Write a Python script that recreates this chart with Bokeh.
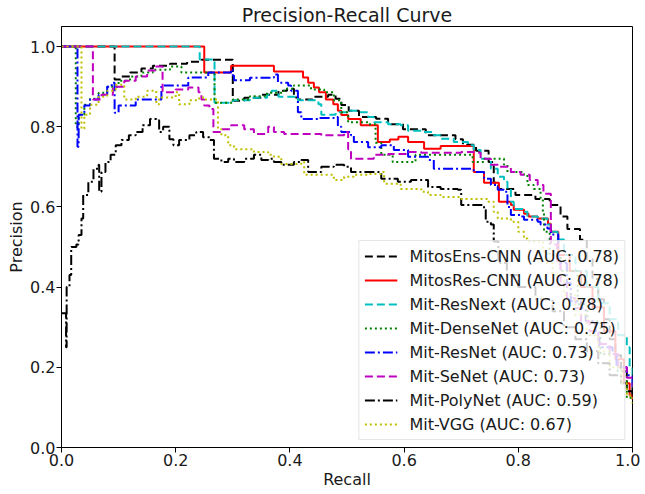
from bokeh.plotting import figure
from bokeh.models import FixedTicker, PrintfTickFormatter, Range1d, Legend
from bokeh.embed import file_html
from bokeh.resources import INLINE

# ---- data ----
series_names = ["MitosEns-CNN (AUC: 0.78)", "MitosRes-CNN (AUC: 0.78)", "Mit-ResNext (AUC: 0.78)",
                "Mit-DenseNet (AUC: 0.75)", "Mit-ResNet (AUC: 0.73)", "Mit-SeNet (AUC: 0.73)",
                "Mit-PolyNet (AUC: 0.59)", "Mit-VGG (AUC: 0.67)"]

ens_recall = [0.0, 0.093, 0.105, 0.12, 0.14, 0.16, 0.19, 0.22, 0.245, 0.30, 0.32, 0.35, 0.38, 0.395, 0.407, 0.414, 0.44, 0.467, 0.48, 0.49, 0.503, 0.521, 0.551, 0.572, 0.598, 0.638, 0.69, 0.703, 0.726, 0.748, 0.757, 0.765, 0.795, 0.83, 0.855, 0.874, 0.886, 0.908, 0.92, 0.93, 0.94, 0.95, 0.96, 0.97, 0.98, 0.99, 1.0]
ens_precision = [1.0, 0.918, 0.925, 0.935, 0.945, 0.952, 0.957, 0.962, 0.967, 0.865, 0.872, 0.88, 0.89, 0.895, 0.873, 0.868, 0.875, 0.88, 0.87, 0.854, 0.84, 0.824, 0.82, 0.806, 0.794, 0.779, 0.769, 0.755, 0.74, 0.712, 0.66, 0.645, 0.63, 0.62, 0.605, 0.576, 0.545, 0.518, 0.47, 0.42, 0.37, 0.32, 0.27, 0.23, 0.19, 0.15, 0.13]

res_recall = [0.0, 0.25, 0.297, 0.372, 0.423, 0.432, 0.442, 0.451, 0.463, 0.476, 0.484, 0.49, 0.502, 0.524, 0.554, 0.575, 0.59, 0.607, 0.635, 0.664, 0.722, 0.74, 0.766, 0.787, 0.792, 0.81, 0.818, 0.834, 0.852, 0.857, 0.87, 0.89, 0.91, 0.93, 0.95, 0.97, 0.985, 0.995, 1.0]
res_precision = [1.0, 0.935, 0.952, 0.938, 0.923, 0.91, 0.898, 0.886, 0.868, 0.856, 0.84, 0.829, 0.819, 0.804, 0.762, 0.768, 0.775, 0.762, 0.745, 0.752, 0.687, 0.66, 0.613, 0.605, 0.593, 0.583, 0.576, 0.571, 0.558, 0.538, 0.48, 0.44, 0.40, 0.35, 0.29, 0.22, 0.16, 0.13, 0.12]

nxt_recall = [0.0, 0.242, 0.268, 0.30, 0.33, 0.36, 0.368, 0.38, 0.414, 0.45, 0.455, 0.48, 0.502, 0.524, 0.537, 0.547, 0.572, 0.594, 0.607, 0.63, 0.652, 0.664, 0.687, 0.712, 0.722, 0.734, 0.752, 0.764, 0.775, 0.781, 0.787, 0.792, 0.81, 0.816, 0.834, 0.851, 0.857, 0.869, 0.88, 0.90, 0.92, 0.94, 0.96, 0.975, 0.99, 0.995, 1.0]
nxt_precision = [1.0, 0.968, 0.86, 0.866, 0.872, 0.88, 0.89, 0.875, 0.866, 0.856, 0.83, 0.836, 0.84, 0.836, 0.824, 0.811, 0.806, 0.804, 0.79, 0.787, 0.779, 0.77, 0.762, 0.754, 0.742, 0.72, 0.695, 0.675, 0.663, 0.645, 0.613, 0.595, 0.588, 0.576, 0.571, 0.556, 0.538, 0.519, 0.48, 0.44, 0.40, 0.36, 0.32, 0.28, 0.25, 0.20, 0.14]

den_recall = [0.0, 0.025, 0.03, 0.04, 0.05, 0.065, 0.08, 0.10, 0.12, 0.14, 0.16, 0.19, 0.21, 0.268, 0.30, 0.33, 0.36, 0.39, 0.407, 0.437, 0.46, 0.477, 0.49, 0.502, 0.537, 0.55, 0.56, 0.58, 0.62, 0.678, 0.72, 0.74, 0.775, 0.781, 0.81, 0.816, 0.827, 0.839, 0.843, 0.845, 0.855, 0.874, 0.904, 0.921, 0.944, 0.974, 0.99, 1.0]
den_precision = [1.0, 0.80, 0.83, 0.855, 0.87, 0.885, 0.90, 0.915, 0.925, 0.935, 0.942, 0.95, 0.935, 0.86, 0.868, 0.876, 0.885, 0.895, 0.903, 0.893, 0.886, 0.866, 0.836, 0.811, 0.806, 0.76, 0.73, 0.712, 0.73, 0.73, 0.712, 0.72, 0.705, 0.687, 0.68, 0.655, 0.645, 0.62, 0.588, 0.538, 0.48, 0.44, 0.357, 0.315, 0.233, 0.19, 0.124, 0.12]

rn_recall = [0.0, 0.028, 0.03, 0.04, 0.05, 0.065, 0.08, 0.088, 0.093, 0.10, 0.13, 0.175, 0.222, 0.257, 0.297, 0.30, 0.302, 0.33, 0.372, 0.379, 0.397, 0.402, 0.414, 0.42, 0.45, 0.477, 0.484, 0.49, 0.507, 0.512, 0.537, 0.56, 0.582, 0.607, 0.642, 0.652, 0.69, 0.722, 0.74, 0.752, 0.764, 0.775, 0.781, 0.787, 0.804, 0.81, 0.834, 0.839, 0.851, 0.857, 0.87, 0.885, 0.892, 0.91, 0.918, 0.935, 0.942, 0.965, 0.972, 0.99, 1.0]
rn_precision = [1.0, 0.75, 0.83, 0.853, 0.868, 0.88, 0.90, 0.91, 0.835, 0.853, 0.868, 0.903, 0.923, 0.935, 0.943, 0.928, 0.916, 0.922, 0.93, 0.91, 0.903, 0.89, 0.836, 0.819, 0.822, 0.824, 0.80, 0.787, 0.779, 0.762, 0.749, 0.754, 0.742, 0.725, 0.717, 0.695, 0.695, 0.687, 0.67, 0.655, 0.643, 0.638, 0.60, 0.58, 0.576, 0.568, 0.563, 0.556, 0.546, 0.531, 0.46, 0.41, 0.365, 0.347, 0.315, 0.29, 0.25, 0.233, 0.20, 0.18, 0.15]

se_recall = [0.0, 0.055, 0.07, 0.09, 0.11, 0.13, 0.15, 0.165, 0.177, 0.20, 0.222, 0.24, 0.245, 0.25, 0.259, 0.266, 0.28, 0.297, 0.315, 0.32, 0.332, 0.337, 0.362, 0.372, 0.39, 0.42, 0.455, 0.495, 0.502, 0.507, 0.524, 0.547, 0.572, 0.607, 0.63, 0.664, 0.70, 0.722, 0.734, 0.752, 0.764, 0.787, 0.804, 0.82, 0.834, 0.844, 0.857, 0.868, 0.874, 0.885, 0.90, 0.91, 0.925, 0.94, 0.96, 0.975, 0.99, 1.0]
se_precision = [1.0, 0.868, 0.88, 0.90, 0.915, 0.925, 0.94, 0.95, 0.886, 0.893, 0.898, 0.886, 0.868, 0.853, 0.844, 0.787, 0.794, 0.804, 0.804, 0.794, 0.794, 0.782, 0.80, 0.787, 0.782, 0.782, 0.779, 0.787, 0.744, 0.72, 0.72, 0.73, 0.732, 0.737, 0.735, 0.735, 0.737, 0.735, 0.72, 0.705, 0.70, 0.687, 0.68, 0.667, 0.655, 0.633, 0.506, 0.457, 0.407, 0.372, 0.347, 0.315, 0.29, 0.258, 0.233, 0.20, 0.174, 0.15]

poly_recall = [0.0, 0.008, 0.009, 0.014, 0.017, 0.026, 0.03, 0.035, 0.038, 0.047, 0.056, 0.065, 0.066, 0.07, 0.077, 0.086, 0.095, 0.105, 0.118, 0.13, 0.142, 0.155, 0.166, 0.171, 0.178, 0.189, 0.196, 0.206, 0.224, 0.236, 0.248, 0.259, 0.267, 0.28, 0.292, 0.302, 0.32, 0.337, 0.35, 0.362, 0.372, 0.385, 0.407, 0.42, 0.432, 0.455, 0.477, 0.495, 0.507, 0.524, 0.56, 0.589, 0.612, 0.642, 0.664, 0.694, 0.70, 0.74, 0.743, 0.752, 0.757, 0.765, 0.78, 0.80, 0.83, 0.86, 0.88, 0.90, 0.92, 0.94, 0.96, 0.98, 0.99, 1.0]
poly_precision = [0.335, 0.25, 0.40, 0.43, 0.50, 0.506, 0.53, 0.571, 0.63, 0.663, 0.695, 0.705, 0.638, 0.687, 0.712, 0.73, 0.754, 0.767, 0.779, 0.787, 0.804, 0.819, 0.816, 0.787, 0.80, 0.769, 0.754, 0.767, 0.779, 0.787, 0.774, 0.767, 0.72, 0.712, 0.72, 0.712, 0.72, 0.73, 0.717, 0.72, 0.712, 0.705, 0.712, 0.717, 0.687, 0.70, 0.705, 0.70, 0.687, 0.687, 0.67, 0.663, 0.667, 0.65, 0.645, 0.643, 0.605, 0.593, 0.563, 0.556, 0.514, 0.46, 0.43, 0.40, 0.37, 0.34, 0.30, 0.27, 0.24, 0.21, 0.18, 0.16, 0.14, 0.13]

vgg_recall = [0.0, 0.035, 0.04, 0.05, 0.065, 0.08, 0.095, 0.11, 0.13, 0.15, 0.166, 0.171, 0.20, 0.206, 0.224, 0.241, 0.25, 0.274, 0.28, 0.292, 0.302, 0.337, 0.362, 0.372, 0.385, 0.42, 0.425, 0.455, 0.477, 0.495, 0.512, 0.537, 0.56, 0.565, 0.594, 0.63, 0.642, 0.664, 0.70, 0.747, 0.757, 0.764, 0.787, 0.80, 0.81, 0.816, 0.843, 0.85, 0.86, 0.88, 0.90, 0.92, 0.94, 0.96, 0.98, 0.99, 1.0]
vgg_precision = [1.0, 0.795, 0.83, 0.855, 0.875, 0.89, 0.905, 0.868, 0.875, 0.89, 0.856, 0.873, 0.886, 0.856, 0.866, 0.873, 0.868, 0.794, 0.779, 0.754, 0.744, 0.737, 0.73, 0.725, 0.707, 0.712, 0.68, 0.68, 0.667, 0.675, 0.68, 0.682, 0.687, 0.658, 0.645, 0.638, 0.63, 0.625, 0.62, 0.613, 0.588, 0.571, 0.563, 0.538, 0.521, 0.514, 0.489, 0.46, 0.43, 0.38, 0.33, 0.28, 0.24, 0.20, 0.16, 0.13, 0.11]

x_ticks = [0.0, 0.2, 0.4, 0.6, 0.8, 1.0]
y_ticks = [0.0, 0.2, 0.4, 0.6, 0.8, 1.0]

# ---- styles ----
FONT = "DejaVu Sans"
TXT = "#1a1a1a"
styles = [
    ("black", "8 4"),
    ("#ff0000", "solid"),
    ("#00bfbf", "8 4"),
    ("#008000", "2 3"),
    ("#0000ff", "10 3 2 3"),
    ("#bf00bf", "8 4"),
    ("black", "10 3 2 3"),
    ("#bfbf00", "2 3"),
]
curves = [(ens_recall, ens_precision), (res_recall, res_precision), (nxt_recall, nxt_precision),
          (den_recall, den_precision), (rn_recall, rn_precision), (se_recall, se_precision),
          (poly_recall, poly_precision), (vgg_recall, vgg_precision)]

p = figure(width=640, height=492, output_backend="svg", toolbar_location=None,
           x_range=Range1d(0, 1.0), y_range=Range1d(0, 1.05),
           min_border_left=61, min_border_right=8, min_border_top=24, min_border_bottom=45)

p.title.text = "Precision-Recall Curve"
p.title.align = "center"
p.title.text_font = FONT
p.title.text_font_size = "19px"
p.title.text_font_style = "normal"
p.title.text_color = TXT
p.title.standoff = 2
p.title.offset = 0

p.xgrid.visible = False
p.ygrid.visible = False
p.outline_line_color = "black"
p.outline_line_alpha = 1.0
p.outline_line_width = 1
p.background_fill_color = "white"

for ax, ticks, lab in ((p.xaxis[0], x_ticks, "Recall"), (p.yaxis[0], y_ticks, "Precision")):
    ax.ticker = FixedTicker(ticks=ticks)
    ax.formatter = PrintfTickFormatter(format="%.1f")
    ax.axis_label = lab
    ax.axis_label_text_font = FONT
    ax.axis_label_text_font_size = "16px"
    ax.axis_label_text_font_style = "normal"
    ax.axis_label_text_color = TXT
    ax.axis_label_standoff = 1
    ax.major_label_text_font = FONT
    ax.major_label_text_font_size = "16px"
    ax.major_label_text_color = TXT
    ax.major_label_standoff = 1
    ax.major_tick_in = 0
    ax.major_tick_out = 5
    ax.minor_tick_line_color = None
    ax.axis_line_color = "black"
    ax.major_tick_line_color = "black"

items = []
for (rx, py), (col, dash), name in zip(curves, styles, series_names):
    r = p.step(x=rx, y=py, mode="after", line_color=col, line_width=2, line_dash=dash)
    items.append((name, [r]))

legend = Legend(items=items, location="bottom_right")
legend.label_text_font = FONT
legend.label_text_font_size = "16px"
legend.label_text_color = TXT
legend.border_line_color = "#cccccc"
legend.border_line_width = 1
legend.background_fill_color = "white"
legend.background_fill_alpha = 0.8
legend.padding = 5
legend.spacing = 4
legend.margin = 7
legend.label_standoff = 12
legend.glyph_width = 33
legend.glyph_height = 20
legend.label_height = 20
p.add_layout(legend, "center")

open("out.html", "w").write(file_html(p, INLINE))
